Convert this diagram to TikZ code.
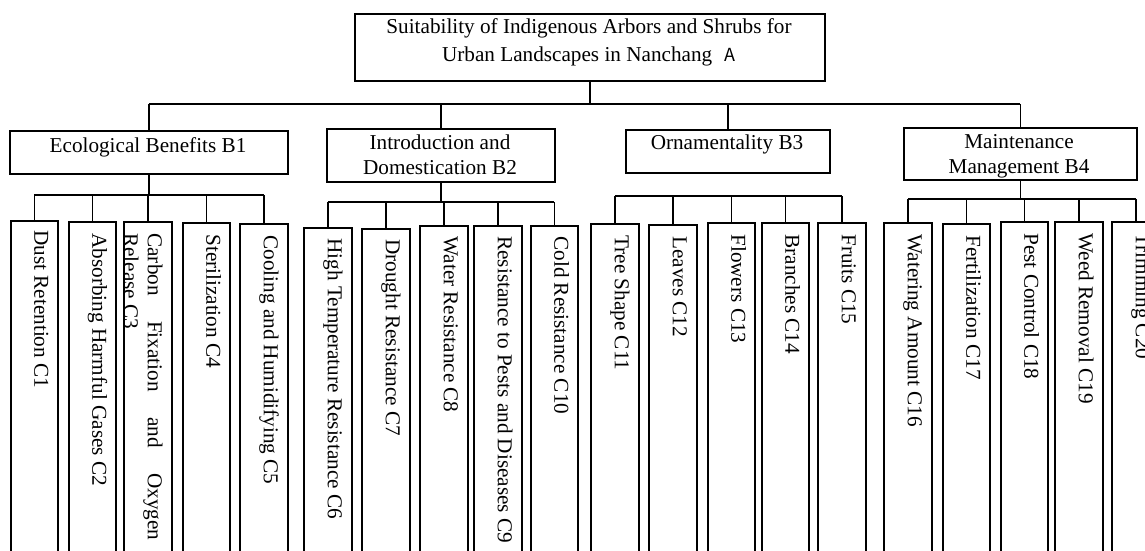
\documentclass[tikz,border=0pt]{standalone}
\usepackage{fontspec}
\setmainfont{Liberation Serif}
\newfontfamily\cjkfont{Noto Sans CJK SC}
\newcommand\mkbox[5]{\node[frame, minimum width={(#4-#2)*0.5pt}, minimum height={(#5-#3)*0.5pt}] (#1) at (#2,#3) {};}
\begin{document}
\begin{tikzpicture}[x=0.5pt,y=-0.5pt,
  frame/.style={draw, line width=0.8pt, rectangle, inner sep=0pt, anchor=north west},
  lbl/.style={inner sep=0pt, align=center, anchor=base, font={\fontsize{10.6pt}{12.5pt}\selectfont}},
  ctext/.style={inner sep=0pt, rotate=-90, anchor=base west, font={\fontsize{10.6pt}{12pt}\selectfont}},
  conn/.style={line width=0.75pt}]
\useasboundingbox (0,0) rectangle (1145,551);
\clip (0,0) rectangle (1145,551);
% top and criteria level
\mkbox{a}{354}{13}{824}{80}
\mkbox{b1}{9}{130}{287}{173}
\mkbox{b2}{326}{128}{554}{181}
\mkbox{b3}{625}{129}{829}{172}
\mkbox{b4}{903}{127}{1136}{179}
% indicator boxes
\mkbox{c1}{10}{220}{57}{600}
\mkbox{c2}{68}{221}{115}{600}
\mkbox{c3}{123}{221}{171}{600}
\mkbox{c4}{182}{222}{229}{600}
\mkbox{c5}{239}{223}{287}{600}
\mkbox{c6}{303}{227}{351}{600}
\mkbox{c7}{361}{228}{409}{600}
\mkbox{c8}{419}{225}{467}{600}
\mkbox{c9}{473}{225}{521}{600}
\mkbox{c10}{530}{225}{577}{600}
\mkbox{c11}{590}{223}{638}{600}
\mkbox{c12}{648}{224}{696}{600}
\mkbox{c13}{707}{222}{754}{600}
\mkbox{c14}{761}{222}{808}{600}
\mkbox{c15}{817}{222}{865}{600}
\mkbox{c16}{883}{222}{931}{600}
\mkbox{c17}{942}{223}{989}{600}
\mkbox{c18}{1000}{221}{1047}{600}
\mkbox{c19}{1054}{221}{1102}{600}
\mkbox{c20}{1111}{221}{1159}{600}
% labels (multi-line nodes: base = last line)
\node[lbl] (ta) at (589,62) {Suitability of Indigenous Arbors and Shrubs for\\[1.5pt]Urban Landscapes in Nanchang\hspace{0.6em}{\cjkfont\fontsize{9pt}{10pt}\selectfont A}};
\node[lbl] (tb1) at (148,152) {Ecological Benefits B1};
\node[lbl] (tb2) at (440,174) {Introduction and\\Domestication B2};
\node[lbl] (tb3) at (727,149) {Ornamentality B3};
\node[lbl] (tb4) at (1019,173) {Maintenance\\Management B4};
\node[ctext] (t1) at ([yshift=-5pt]c1.north) {Dust Retention C1};
\node[ctext] (t2) at ([yshift=-6pt]c2.north) {Absorbing Harmful Gases C2};
\node[ctext, text width=153.5pt, align=justify] (t3) at ([yshift=-6pt]c3.north) {Carbon Fixation and Oxygen \mbox{Release} C3};
\node[ctext] (t4) at ([yshift=-6pt]c4.north) {Sterilization C4};
\node[ctext] (t5) at ([yshift=-6pt]c5.north) {Cooling and Humidifying C5};
\node[ctext] (t6) at ([yshift=-5.5pt]c6.north) {High Temperature Resistance C6};
\node[ctext] (t7) at ([yshift=-5.5pt]c7.north) {Drought Resistance C7};
\node[ctext] (t8) at ([yshift=-5.5pt]c8.north) {Water Resistance C8};
\node[ctext] (t9) at ([yshift=-5.5pt]c9.north) {Resistance to Pests and Diseases C9};
\node[ctext] (t10) at ([yshift=-5.5pt]c10.north) {Cold Resistance C10};
\node[ctext] (t11) at ([yshift=-6pt]c11.north) {Tree Shape C11};
\node[ctext] (t12) at ([yshift=-6pt]c12.north) {Leaves C12};
\node[ctext] (t13) at ([yshift=-6pt]c13.north) {Flowers C13};
\node[ctext] (t14) at ([yshift=-6pt]c14.north) {Branches C14};
\node[ctext] (t15) at ([yshift=-6pt]c15.north) {Fruits C15};
\node[ctext] (t16) at ([yshift=-6pt]c16.north) {Watering Amount C16};
\node[ctext] (t17) at ([yshift=-6pt]c17.north) {Fertilization C17};
\node[ctext] (t18) at ([yshift=-6pt]c18.north) {Pest Control C18};
\node[ctext] (t19) at ([yshift=-6pt]c19.north) {Weed Removal C19};
\node[ctext] (t20) at ([yshift=-6pt]c20.north) {Trimming C20};
% connectors: goal to criteria
\draw[conn] (a.south) -- (a.south |- 0,104);
\draw[conn] (b1.north |- 0,104) -- (b4.north |- 0,104);
\foreach \b in {b1,b2,b3,b4} \draw[conn] (\b.north |- 0,104) -- (\b.north);
% B1
\draw[conn] (b1.south) -- (b1.south |- 0,195);
\draw[conn] (c1.north |- 0,195) -- (c5.north |- 0,195);
\foreach \c in {c1,c2,c3,c4,c5} \draw[conn] (\c.north |- 0,195) -- (\c.north);
% B2
\draw[conn] (b2.south) -- (b2.south |- 0,202);
\draw[conn] (c6.north |- 0,202) -- (c10.north |- 0,202);
\foreach \c in {c6,c7,c8,c9,c10} \draw[conn] (\c.north |- 0,202) -- (\c.north);
% B3 (no stem in the original)
\draw[conn] (c11.north |- 0,196) -- (c15.north |- 0,196);
\foreach \c in {c11,c12,c13,c14,c15} \draw[conn] (\c.north |- 0,196) -- (\c.north);
% B4
\draw[conn] (b4.south) -- (b4.south |- 0,199);
\draw[conn] (c16.north |- 0,199) -- (c20.north |- 0,199);
\foreach \c in {c16,c17,c18,c19,c20} \draw[conn] (\c.north |- 0,199) -- (\c.north);
\end{tikzpicture}
\end{document}
